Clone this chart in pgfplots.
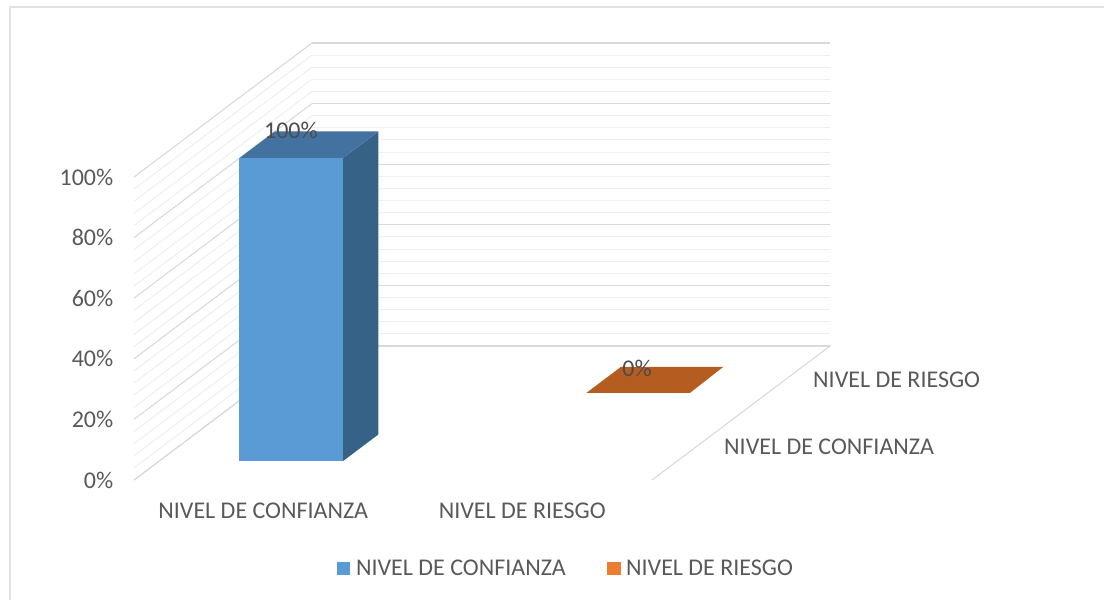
\documentclass[border=0pt]{standalone}
\usepackage{pgfplots}
\pgfplotsset{compat=1.18}
\usepackage{fontspec}
\setmainfont{Carlito}
\definecolor{txt}{HTML}{595959}
\definecolor{gmaj}{HTML}{D9D9D9}
\definecolor{gmin}{HTML}{EFEFEF}
\definecolor{frame}{HTML}{E2E2E2}
\definecolor{bfront}{HTML}{5B9BD5}
\definecolor{btop}{HTML}{4472A0}
\definecolor{bside}{HTML}{376287}
\definecolor{otop}{HTML}{B55C20}
\definecolor{oleg}{HTML}{ED7D31}
\begin{document}
\begin{tikzpicture}[x=0.75pt,y=0.75pt]
\path[use as bounding box] (0,0) rectangle (1104,600);
\draw[frame,line width=1.5pt] (10,0) -- (10,592.5) -- (1104,592.5);
\begin{axis}[
  anchor=origin, at={(0pt,0pt)}, xshift=100.5pt, yshift=90pt,
  x={(194.25pt,0pt)}, y={(66.75pt,50.25pt)}, z={(0pt,2.2725pt)},
  xmin=0, xmax=2, ymin=0, ymax=2, zmin=0, zmax=100,
  clip=false,
  axis line style={draw=none},
  tick style={draw=none},
  xtick={0.5,1.5}, xticklabels={NIVEL DE CONFIANZA,NIVEL DE RIESGO},
  ytick={0.5,1.5}, yticklabels={NIVEL DE CONFIANZA,NIVEL DE RIESGO},
  ztick={0,20,40,60,80,100}, zticklabels={0\%,20\%,40\%,60\%,80\%,100\%},
  minor z tick num=4,
  zmajorgrids, zminorgrids,
  major grid style={gmaj,line width=0.8pt},
  minor grid style={gmin,line width=0.8pt},
  tick label style={font=\fontsize{18}{20}\selectfont,text=txt},
  xticklabel style={xshift=4.5pt,yshift=-13.75pt},
  yticklabel style={anchor=west,xshift=17.25pt,yshift=0pt},
  zticklabel style={anchor=east,xshift=-12pt,yshift=0pt},
  legend columns=2,
  legend style={draw=none,fill=none,font=\fontsize{18}{20}\selectfont,text=txt,
    at={(0.5,-0.17)},anchor=north,xshift=63.4pt,/tikz/every even column/.append style={column sep=29.25pt}},
  legend image code/.code={\fill[#1,draw=none] (0pt,-4.9pt) rectangle (9.8pt,4.9pt);\path[draw=none] (0pt,0pt) -- (12pt,0pt);},
]
\addlegendimage{bfront}\addlegendentry{NIVEL DE CONFIANZA}
\addlegendimage{oleg}\addlegendentry{NIVEL DE RIESGO}
% floor edges
\addplot3[gmaj,line width=0.8pt,forget plot] coordinates {(0,0,0) (0,2,0) (2,2,0) (2,0,0)};
% bar 1: value 100
\addplot3[fill=bside,draw=none,forget plot] coordinates {(0.71,0.28,0) (0.71,0.68,0) (0.71,0.68,100) (0.71,0.28,100)} --cycle;
\addplot3[fill=btop,draw=none,forget plot] coordinates {(0.31,0.28,100) (0.71,0.28,100) (0.71,0.68,100) (0.31,0.68,100)} --cycle;
\addplot3[fill=bfront,draw=none,forget plot] coordinates {(0.31,0.28,0) (0.71,0.28,0) (0.71,0.28,100) (0.31,0.28,100)} --cycle;
% bar 2: value 0
\addplot3[fill=otop,draw=none,forget plot] coordinates {(1.30,1.3,0) (1.70,1.3,0) (1.695,1.69,0) (1.30,1.69,0)} --cycle;
\node[font=\fontsize{18}{20}\selectfont,text=txt!85!black] at (axis cs:0.441,0.48,100) [yshift=10.5pt] {100\%};
\node[font=\fontsize{18}{20}\selectfont,text=txt!85!black] at (axis cs:1.5,1.5,0) [xshift=-14.25pt,yshift=8.25pt] {0\%};
\end{axis}
\end{tikzpicture}
\end{document}
